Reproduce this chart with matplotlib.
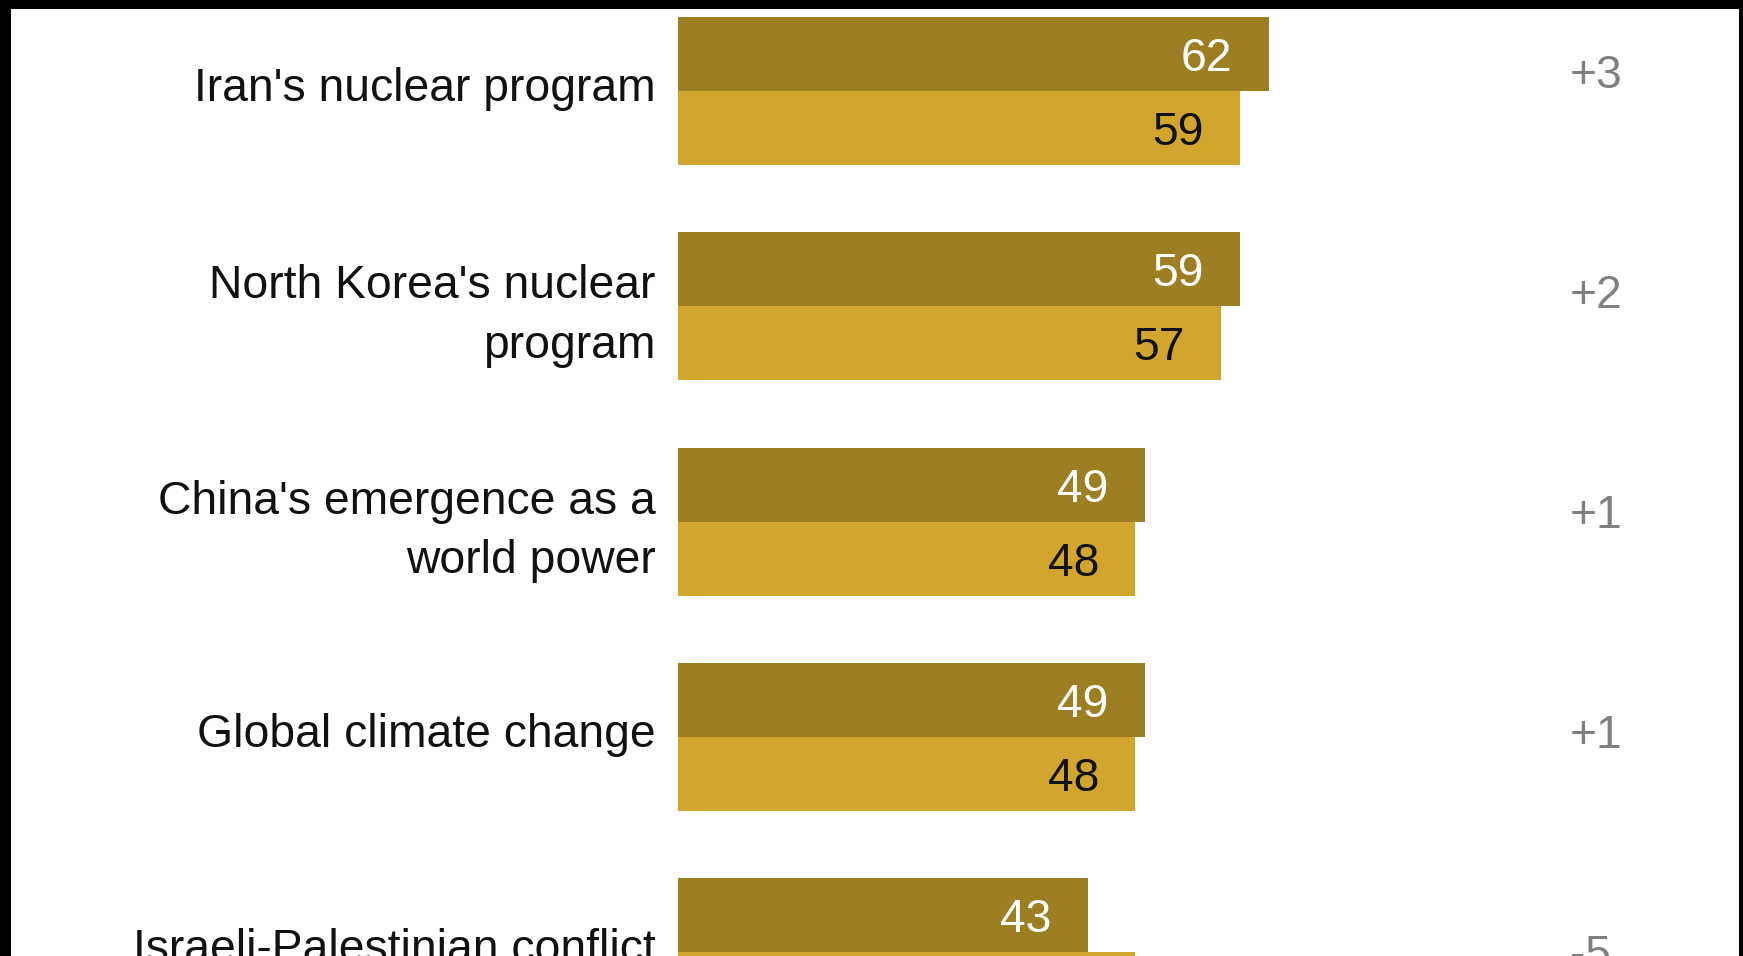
import matplotlib
matplotlib.use("Agg")
import matplotlib.pyplot as plt
from matplotlib.patches import Rectangle

plt.rcParams['font.family'] = ['Liberation Sans', 'DejaVu Sans']

categories = ["Iran's nuclear program",
              "North Korea's nuclear\nprogram",
              "China's emergence as a\nworld power",
              "Global climate change",
              "Israeli-Palestinian conflict"]
latest = [62, 59, 49, 49, 43]
earlier = [59, 57, 48, 48, 48]
diffs = [a - b for a, b in zip(latest, earlier)]

dark = '#9E7E23'
light = '#D2A52E'

W, H = 1743, 956
fig = plt.figure(figsize=(W / 100, H / 100), dpi=100, facecolor='black')

# white page inside the black frame
left, right, top = 11, 1739, 9
fig.add_artist(Rectangle((left / W, 0), (right - left) / W, (H - top) / H,
                         transform=fig.transFigure, facecolor='white',
                         edgecolor='none', zorder=0))

ax = fig.add_axes([left / W, 0, (right - left) / W, (H - top) / H])
ax.patch.set_alpha(0)
ax.set_axis_off()

px_per_unit = 9.53
bar_x0 = 678
row_px = 215.25
first_center = 91
ax.set_xlim(-(bar_x0 - left) / px_per_unit, (right - bar_x0) / px_per_unit)
ax.set_ylim((H - first_center) / row_px, (top - first_center) / row_px)

bh = 74 / row_px
ys = list(range(len(categories)))
ax.barh([y - bh / 2 for y in ys], latest, height=bh, color=dark, linewidth=0)
ax.barh([y + bh / 2 for y in ys], earlier, height=bh, color=light, linewidth=0)

fs = 33.3
for y, cat, a, b, d in zip(ys, categories, latest, earlier, diffs):
    shift = 0.045 if '\n' in cat else -0.01
    ax.annotate(cat, xy=(0, y + shift), xytext=(-16, 0), textcoords='offset points',
                ha='right', va='center', fontsize=fs, color='#111111',
                linespacing=1.45, annotation_clip=False)
    ax.annotate(str(a), xy=(a, y - bh / 2), xytext=(-26, 0), textcoords='offset points',
                ha='right', va='center_baseline', fontsize=fs, color='white')
    ax.annotate(str(b), xy=(b, y + bh / 2), xytext=(-26, 0), textcoords='offset points',
                ha='right', va='center_baseline', fontsize=fs, color='#111111')
    ax.text((1570 - bar_x0) / px_per_unit, y * 1.0232 - 0.0952, f"{d:+d}",
            ha='left', va='center_baseline', fontsize=fs, color='#808080',
            clip_on=False)

fig.savefig('out.png', dpi=100, facecolor='black')
